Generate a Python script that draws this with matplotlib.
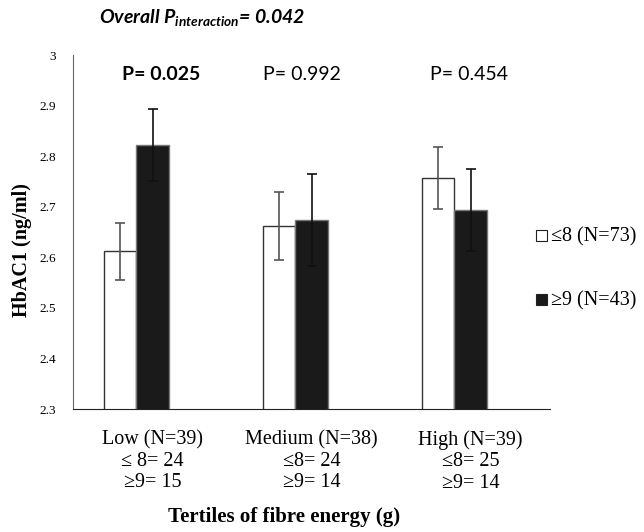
import numpy as np
import matplotlib
matplotlib.use("Agg")
import matplotlib.pyplot as plt

# data
categories = ["Low (N=39)\n\u2264 8= 24\n\u22659= 15",
              "Medium (N=38)\n\u22648= 24\n\u22659= 14",
              "High (N=39)\n\u22648= 25\n\u22659= 14"]
low_mean = [2.612, 2.662, 2.757]     # <=8 meals
low_err = [0.056, 0.068, 0.061]
high_mean = [2.822, 2.673, 2.693]    # >=9 meals
high_err = [0.071, 0.091, 0.081]
p_labels = ["P= 0.025", "P= 0.992", "P= 0.454"]
p_bold = [True, False, False]
legend_labels = ["\u22648 (N=73)", "\u22659 (N=43)"]

serif = "Liberation Serif"
sans = "Lato"

fig = plt.figure(figsize=(6.44, 5.32), dpi=100)
ax = fig.add_axes([0.1134, 0.2312, 0.7407, 0.6654])

x = np.arange(len(categories))
w = 0.204

ax.bar(x - w, low_mean, width=w, align="center", color="white",
       edgecolor="#333333", linewidth=1.0, zorder=2)
ax.bar(x, high_mean, width=w, align="center", color="#1a1a1a",
       edgecolor="#777777", linewidth=1.0, zorder=2)
ax.errorbar(x - w, low_mean, yerr=low_err, fmt="none", ecolor="#555555",
            elinewidth=1.2, capsize=3.5, capthick=1.2, zorder=3)
ax.errorbar(x, high_mean, yerr=high_err, fmt="none", ecolor="#111111",
            elinewidth=1.2, capsize=3.5, capthick=1.2, zorder=3)

ax.set_xlim(-0.5, 2.5)
ax.set_ylim(2.3, 3.0)
ax.set_yticks(np.arange(2.3, 3.01, 0.1))
ax.set_yticklabels(["2.3", "2.4", "2.5", "2.6", "2.7", "2.8", "2.9", "3"],
                   fontfamily=serif, fontsize=9.5)
ax.set_xticks(x)
ax.set_xticklabels(categories, fontfamily=serif, fontsize=14.5, linespacing=1.18)
ax.tick_params(axis="y", length=0, pad=12)
ax.tick_params(axis="x", length=0, pad=15)

for s in ["top", "right"]:
    ax.spines[s].set_visible(False)
ax.spines["left"].set_color("#666666")
ax.spines["bottom"].set_color("#222222")

fig.text(22 / 644, 1 - 250 / 532, "HbAC1 (ng/ml)", fontfamily=serif,
         fontsize=14.5, fontweight="bold", rotation=90, ha="center", va="center")
fig.text(284 / 644, 1 - 517 / 532, "Tertiles of fibre energy (g)",
         fontfamily=serif, fontsize=15, fontweight="bold",
         ha="center", va="center")

# p-values over each group
p_x = [122, 263, 430]
for px, lab, b in zip(p_x, p_labels, p_bold):
    fig.text(px / 644, 1 - 75 / 532, lab, fontfamily=sans, fontsize=14,
             fontweight="bold" if b else "normal", ha="left", va="center")

fig.text(99 / 644, 1 - 18 / 532,
         r"Overall P$_{\mathregular{interaction}}$= 0.042",
         fontfamily=sans, fontsize=14, fontweight="bold", fontstyle="italic",
         ha="left", va="center")

# legend
leg_y = [237, 301]
leg_fill = ["white", "#1a1a1a"]
for ly, lab, fc in zip(leg_y, legend_labels, leg_fill):
    fig.patches.append(plt.Rectangle((536 / 644, 1 - (ly + 4) / 532),
                                     11 / 644, 11 / 532, facecolor=fc,
                                     edgecolor="#222222", linewidth=0.8,
                                     transform=fig.transFigure, figure=fig))
    fig.text(551 / 644, 1 - ly / 532, lab, fontfamily=serif, fontsize=14.5,
             ha="left", va="center")

fig.savefig("out.png", dpi=100)
